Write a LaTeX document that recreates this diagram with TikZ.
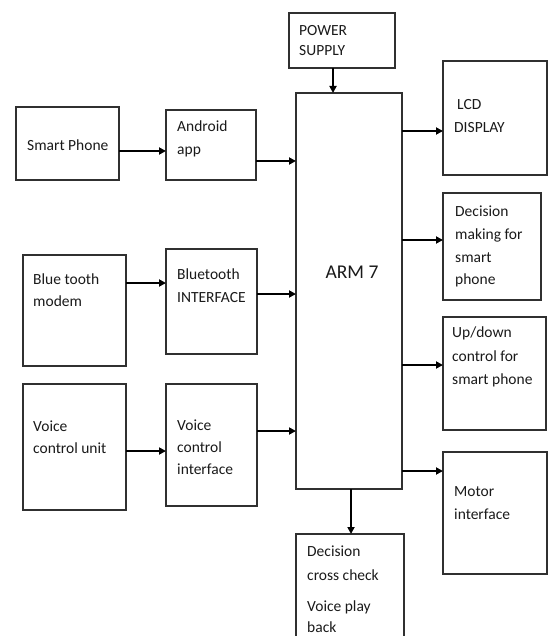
\documentclass[tikz,border=0pt]{standalone}
\usepackage{fontspec}
\setmainfont{Carlito}
\usetikzlibrary{arrows.meta}
\definecolor{boxline}{HTML}{303030}
\definecolor{txtcol}{HTML}{1A1A1A}
\tikzset{
  blk/.style={draw=boxline, line width=2.2pt, inner sep=0pt, outer sep=0pt, anchor=north west, fill=white},
  txt/.style={anchor=base west, inner sep=0pt, text=txtcol, font=\fontsize{15.5}{20}\selectfont},
  big/.style={anchor=base, inner sep=0pt, text=txtcol, font=\fontsize{19.5}{24}\selectfont},
  arr/.style={draw=black, line width=1.8pt, -{Triangle[length=7pt,width=7pt]}}
}
\begin{document}
\begin{tikzpicture}[x=1pt,y=-1pt]
\useasboundingbox (0,0) rectangle (549,636);
\clip (0,0) rectangle (549,636);
% boxes
\node[blk, minimum width=106pt, minimum height=55pt] (power) at (289,13) {};
\node[blk, minimum width=106pt, minimum height=396pt] (arm) at (296,93) {};
\node[blk, minimum width=103pt, minimum height=73pt] (sp) at (16,107) {};
\node[blk, minimum width=90pt, minimum height=70pt] (android) at (166,110) {};
\node[blk, minimum width=104pt, minimum height=114pt] (lcd) at (443,61) {};
\node[blk, minimum width=98pt, minimum height=107pt] (dm) at (443,193) {};
\node[blk, minimum width=103pt, minimum height=113pt] (ud) at (443,317) {};
\node[blk, minimum width=104pt, minimum height=122pt] (motor) at (443,452) {};
\node[blk, minimum width=103pt, minimum height=111pt] (btm) at (23,255) {};
\node[blk, minimum width=91pt, minimum height=105pt] (bti) at (166,249) {};
\node[blk, minimum width=103pt, minimum height=126pt] (vcu) at (23,384) {};
\node[blk, minimum width=91pt, minimum height=122pt] (vci) at (166,384) {};
\node[blk, minimum width=108pt, minimum height=116pt] (cc) at (296,534) {};
% texts
\node[txt] (tpw1) at (299,36) {POWER};
\node[txt] (tpw2) at (299,56) {SUPPLY};
\node[txt] (tsp) at (27,151) {Smart Phone};
\node[txt] (tan1) at (177,132) {Android};
\node[txt] (tan2) at (177,154.5) {app};
\node[txt] (tlcd1) at (457,110) {LCD};
\node[txt] (tlcd2) at (454,133) {DISPLAY};
\node[txt] (tdm1) at (455,216) {Decision};
\node[txt] (tdm2) at (455,239) {making for};
\node[txt] (tdm3) at (455,262) {smart};
\node[txt] (tdm4) at (455,284) {phone};
\node[txt] (tbm1) at (33,284) {Blue tooth};
\node[txt] (tbm2) at (33,306) {modem};
\node[txt] (tbi1) at (177,279) {Bluetooth};
\node[txt] (tbi2) at (177,302) {INTERFACE};
\node[big] (tarm) at (352,278) {ARM 7};
\node[txt] (tud1) at (452,337) {Up/down};
\node[txt] (tud2) at (452,361) {control for};
\node[txt] (tud3) at (452,384) {smart phone};
\node[txt] (tvu1) at (33,431) {Voice};
\node[txt] (tvu2) at (33,453) {control unit};
\node[txt] (tvi1) at (177,430) {Voice};
\node[txt] (tvi2) at (177,452) {control};
\node[txt] (tvi3) at (177,474) {interface};
\node[txt] (tmo1) at (454,496) {Motor};
\node[txt] (tmo2) at (454,519) {interface};
\node[txt] (tcc1) at (307,556) {Decision};
\node[txt] (tcc2) at (307,580) {cross check};
\node[txt] (tcc3) at (307,611) {Voice play};
\node[txt] (tcc4) at (307,632) {back};
% connector levels
\coordinate (y1) at (0,151);
\coordinate (y2) at (0,161);
\coordinate (y3) at (0,283);
\coordinate (y4) at (0,294);
\coordinate (y5) at (0,451);
\coordinate (y6) at (0,431);
\coordinate (y7) at (0,131);
\coordinate (y8) at (0,240);
\coordinate (y9) at (0,365);
\coordinate (y10) at (0,471);
\coordinate (x1) at (333,0);
\coordinate (x2) at (351,0);
% connectors
\draw[arr] (sp.east |- y1) -- (android.west |- y1);
\draw[arr] (android.east |- y2) -- (arm.west |- y2);
\draw[arr] (btm.east |- y3) -- (bti.west |- y3);
\draw[arr] (bti.east |- y4) -- (arm.west |- y4);
\draw[arr] (vcu.east |- y5) -- (vci.west |- y5);
\draw[arr] (vci.east |- y6) -- (arm.west |- y6);
\draw[arr] (arm.east |- y7) -- (lcd.west |- y7);
\draw[arr] (arm.east |- y8) -- (dm.west |- y8);
\draw[arr] (arm.east |- y9) -- (ud.west |- y9);
\draw[arr] (arm.east |- y10) -- (motor.west |- y10);
\draw[arr] (x1 |- power.south) -- (x1 |- arm.north);
\draw[arr] (x2 |- arm.south) -- (x2 |- cc.north);
\end{tikzpicture}
\end{document}
